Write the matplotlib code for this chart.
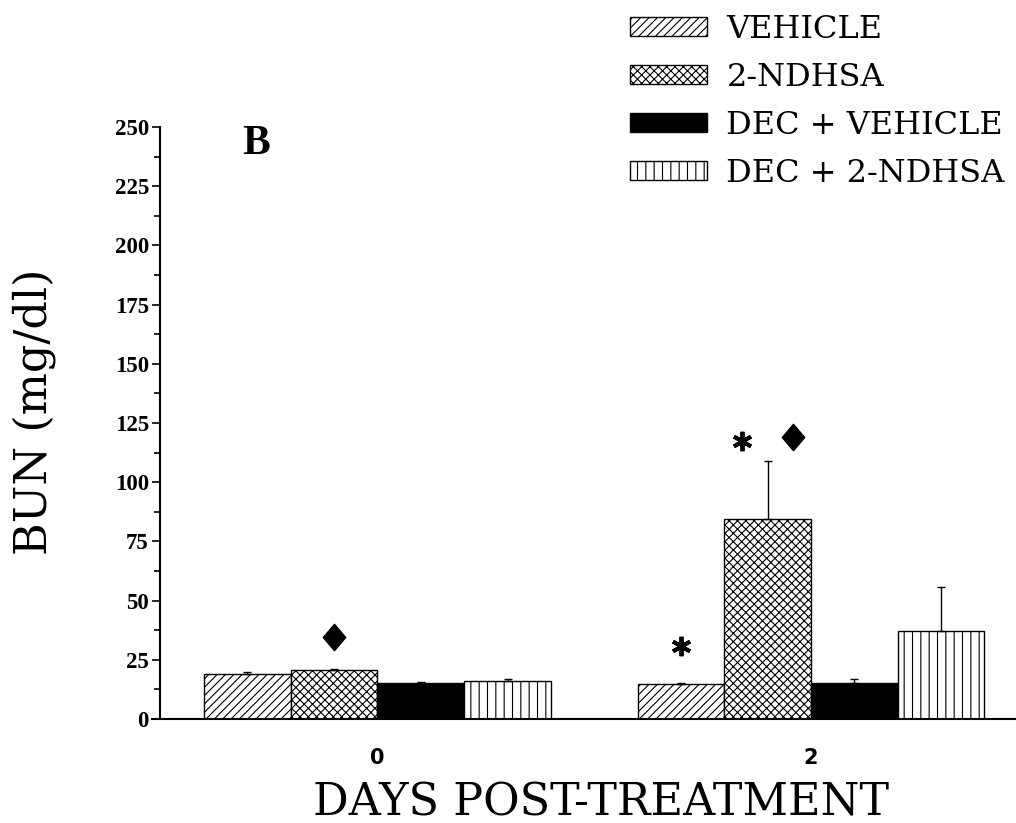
import matplotlib
matplotlib.use("Agg")
import matplotlib.pyplot as plt
import numpy as np
from matplotlib.path import Path

# ---- data ----
days = ["0", "2"]
series = ["VEHICLE", "2-NDHSA", "DEC + VEHICLE", "DEC + 2-NDHSA"]
means = {
    "VEHICLE":       [19.0, 14.6],
    "2-NDHSA":       [20.8, 84.3],
    "DEC + VEHICLE": [15.2, 15.2],
    "DEC + 2-NDHSA": [16.2, 37.2],
}
errors = {
    "VEHICLE":       [0.7, 0.4],
    "2-NDHSA":       [0.5, 24.5],
    "DEC + VEHICLE": [0.5, 1.8],
    "DEC + 2-NDHSA": [0.6, 18.4],
}
# significance markers: (group index, series index, offset in bar widths, y value)
stars = [(1, 0, 0.0, 31.0), (1, 1, -0.29, 117.5)]
diamonds = [(0, 1, 0.0, 34.8), (1, 1, 0.29, 119.0)]
yticks = [0, 25, 50, 75, 100, 125, 150, 175, 200, 225, 250]

hatches = ["////", "xxxx", "", "||"]
faces = ["white", "white", "black", "white"]

plt.rcParams["hatch.linewidth"] = 0.8

fig = plt.figure(figsize=(10.16, 8.23), dpi=100)
ax = fig.add_axes([160/1016, 104/823, 856/1016, 592/823])

x = np.arange(len(days))
w = 0.2
for i, s in enumerate(series):
    pos = x + (i - 1.5) * w
    ax.bar(pos, means[s], width=w, color=faces[i], edgecolor="black",
           hatch=hatches[i], linewidth=1.0, label=s, zorder=2)
    ax.errorbar(pos, means[s], yerr=[np.zeros(len(days)), errors[s]],
                fmt="none", ecolor="black", elinewidth=1.0, capsize=3,
                capthick=1.0, zorder=3)

diamond = Path([(0, 1), (0.85, 0), (0, -1), (-0.85, 0), (0, 1)],
               [Path.MOVETO, Path.LINETO, Path.LINETO, Path.LINETO, Path.CLOSEPOLY])
for g, si, off, yv in diamonds:
    ax.plot(x[g] + (si - 1.5 + off) * w, yv, marker=diamond, markersize=19,
            color="black", linestyle="none", zorder=4)
for g, si, off, yv in stars:
    ax.plot(x[g] + (si - 1.5 + off) * w, yv, marker=(6, 2, 0), markersize=14,
            markeredgewidth=2.8, color="black", linestyle="none", zorder=4)

ax.text(-0.28, 243, "B", fontsize=30, fontweight="bold",
        family="Liberation Serif", ha="center", va="center")

ax.set_ylim(0, 250)
ax.set_xlim(-0.5017, 1.473)
ax.set_yticks(yticks)
ax.set_yticks(np.arange(12.5, 250, 25), minor=True)
ax.set_yticklabels([str(v) for v in yticks], fontsize=16.5, fontweight="bold",
                   family="Liberation Serif")
ax.tick_params(axis="y", which="major", length=6, width=1.2, pad=2)
ax.tick_params(axis="y", which="minor", length=4.5, width=1.2)
ax.set_xticks(x)
ax.set_xticklabels(days, fontsize=15, fontweight="bold", family="DejaVu Sans")
ax.tick_params(axis="x", length=0, pad=21)

for sp in ["top", "right"]:
    ax.spines[sp].set_visible(False)
ax.spines["left"].set_linewidth(1.5)
ax.spines["bottom"].set_linewidth(1.5)
ax.spines["bottom"].set_bounds(-0.52, 1.473)

ax.set_ylabel("BUN (mg/dl)", fontsize=32, family="DejaVu Serif",
              ha="center", va="center")
ax.yaxis.set_label_coords(-0.147, 0.519)
ax.set_xlabel("DAYS POST-TREATMENT", fontsize=32, family="DejaVu Serif",
              ha="center", va="center")
ax.xaxis.set_label_coords(0.515, -0.142)

fig.legend(loc="upper left", bbox_to_anchor=(630/1016, 1 - 14/823),
           frameon=False, borderpad=0, borderaxespad=0,
           prop={"family": "DejaVu Serif", "size": 23},
           handlelength=2.42, handleheight=0.53, handletextpad=0.6,
           labelspacing=0.53)

fig.savefig("out.png", dpi=100)
